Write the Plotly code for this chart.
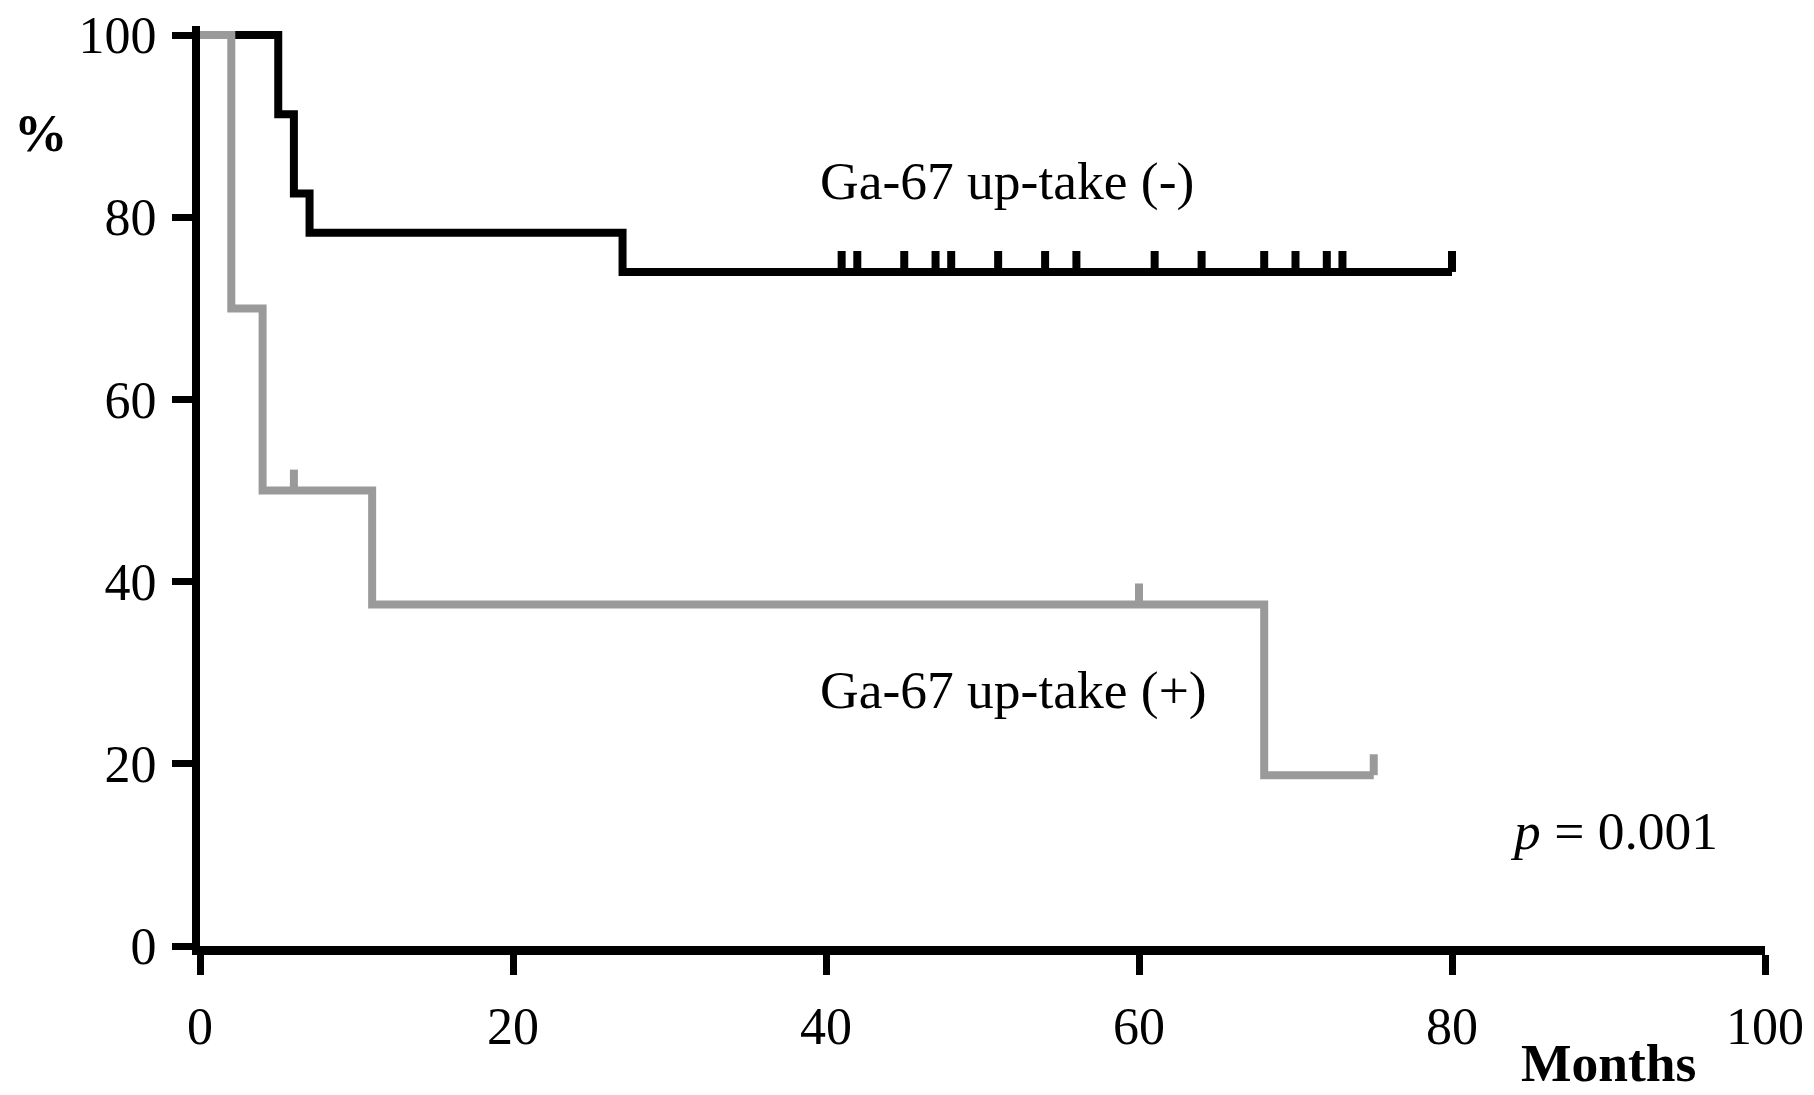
import plotly.graph_objects as go

# Kaplan-Meier data
neg_time = [0, 5, 6, 7, 27, 80]
neg_surv = [100, 91.3, 82.6, 78.3, 74.0, 74.0]
neg_censor = [41, 42, 45, 47, 48, 51, 54, 56, 61, 64, 68, 70, 72, 73, 80]

pos_time = [0, 2, 4, 11, 68, 75]
pos_surv = [100, 70, 50, 37.5, 18.75, 18.75]
pos_censor = [6, 60, 75]

x_ticks = [0, 20, 40, 60, 80, 100]
y_ticks = [0, 20, 40, 60, 80, 100]

FONT = "Liberation Serif"
FS = 52
FS_ANN = 53.5
BLACK = "#000000"
GRAY = "#9a9a9a"
TICK_H = 2.3  # censor tick height in % units


def surv_at(times, surv, t):
    s = surv[0]
    for ti, si in zip(times, surv):
        if ti <= t:
            s = si
    return s


def censor_segments(times, surv, cens):
    xs, ys = [], []
    for c in cens:
        s = surv_at(times, surv, c)
        xs += [c, c, None]
        ys += [s, s + TICK_H, None]
    return xs, ys


fig = go.Figure()

# Ga-67 (-) black
fig.add_trace(go.Scatter(x=neg_time, y=neg_surv, mode="lines",
                         line=dict(color=BLACK, width=8, shape="hv"),
                         showlegend=False, hoverinfo="skip"))
cx, cy = censor_segments(neg_time, neg_surv, neg_censor)
fig.add_trace(go.Scatter(x=cx, y=cy, mode="lines",
                         line=dict(color=BLACK, width=8),
                         showlegend=False, hoverinfo="skip"))

# Ga-67 (+) gray
fig.add_trace(go.Scatter(x=pos_time, y=pos_surv, mode="lines",
                         line=dict(color=GRAY, width=8, shape="hv"),
                         showlegend=False, hoverinfo="skip"))
cx, cy = censor_segments(pos_time, pos_surv, pos_censor)
fig.add_trace(go.Scatter(x=cx, y=cy, mode="lines",
                         line=dict(color=GRAY, width=8),
                         showlegend=False, hoverinfo="skip"))

fig.update_layout(
    width=1806, height=1087,
    margin=dict(l=192, r=49, t=18, b=149, autoexpand=False),
    paper_bgcolor="white", plot_bgcolor="white",
    font=dict(family=FONT, size=FS, color="black"),
    xaxis=dict(range=[0, 100], tickvals=x_ticks, ticktext=[str(v) for v in x_ticks],
               showgrid=False, zeroline=False, showline=True, linecolor="black",
               linewidth=9, ticks="outside", ticklen=20, tickwidth=7, tickcolor="black",
               ticklabelstandoff=7, ticklabeloverflow="allow", automargin=False,
               tickfont=dict(family=FONT, size=FS)),
    yaxis=dict(range=[0, 101], tickvals=y_ticks, ticktext=[str(v) for v in y_ticks],
               showgrid=False, zeroline=False, showline=True, linecolor="black",
               linewidth=8, ticks="outside", ticklen=20, tickwidth=7, tickcolor="black",
               ticklabelstandoff=5, ticklabeloverflow="allow", automargin=False,
               tickfont=dict(family=FONT, size=FS)),
    annotations=[
        dict(text="Ga-67 up-take (-)", x=39.5, y=84.0, xref="x", yref="y",
             xanchor="left", yanchor="middle", showarrow=False,
             font=dict(family=FONT, size=FS_ANN)),
        dict(text="Ga-67 up-take (+)", x=39.5, y=28.1, xref="x", yref="y",
             xanchor="left", yanchor="middle", showarrow=False,
             font=dict(family=FONT, size=FS_ANN)),
        dict(text="<i>p</i> = 0.001", x=83.6, y=12.6, xref="x", yref="y",
             xanchor="left", yanchor="middle", showarrow=False,
             font=dict(family=FONT, size=FS_ANN)),
        dict(text="<b>%</b>", x=-0.1016, y=0.8837, xref="paper", yref="paper",
             xanchor="center", yanchor="middle", showarrow=False,
             font=dict(family=FONT, size=FS_ANN)),
        dict(text="<b>Months</b>", x=0.8997, y=-0.127, xref="paper", yref="paper",
             xanchor="center", yanchor="middle", showarrow=False,
             font=dict(family=FONT, size=FS_ANN)),
    ],
)

fig.write_html("out.html")
